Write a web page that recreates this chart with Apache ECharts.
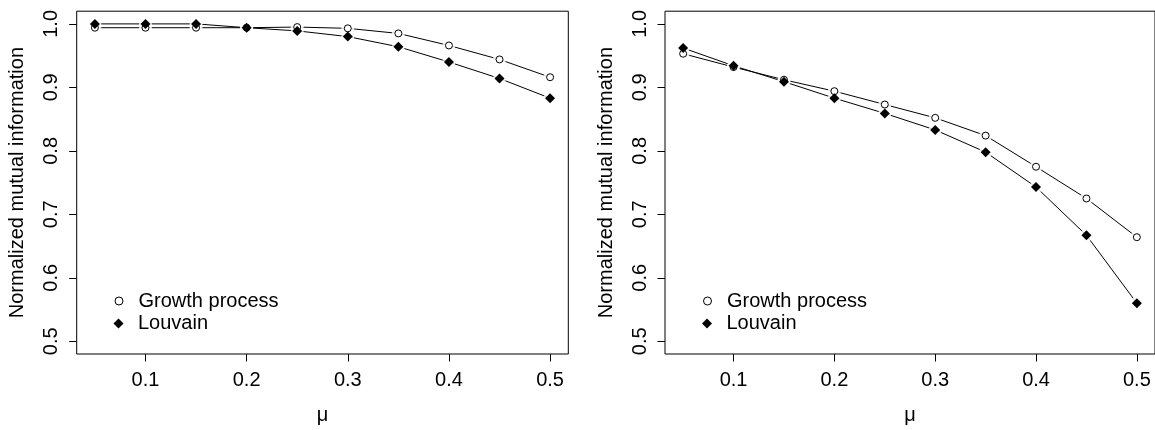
<!DOCTYPE html>
<html>
<head>
<meta charset="utf-8">
<script src="https://cdn.jsdelivr.net/npm/echarts@6/dist/echarts.min.js"></script>
<style>
  html, body { margin: 0; padding: 0; background: #fff; }
  #chart { width: 1155px; height: 430px; }
</style>
</head>
<body>
<div id="chart"></div>
<script>
// ---- data ----
const mu = [0.05, 0.10, 0.15, 0.20, 0.25, 0.30, 0.35, 0.40, 0.45, 0.50];
const leftGrowth  = [0.994, 0.994, 0.994, 0.994, 0.995, 0.993, 0.985, 0.966, 0.944, 0.916];
const leftLouvain = [1.000, 1.000, 1.000, 0.994, 0.989, 0.980, 0.964, 0.940, 0.914, 0.883];
const rightGrowth  = [0.953, 0.932, 0.912, 0.894, 0.873, 0.852, 0.824, 0.775, 0.725, 0.664];
const rightLouvain = [0.962, 0.934, 0.909, 0.883, 0.859, 0.833, 0.798, 0.743, 0.667, 0.560];
const xTicks = [0.1, 0.2, 0.3, 0.4, 0.5];
const yTicks = [0.5, 0.6, 0.7, 0.8, 0.9, 1.0];
const seriesNames = ['Growth process', 'Louvain'];
const xTitle = 'μ';
const yTitle = 'Normalized mutual information';

const FONT = '"Liberation Sans", Arial, Helvetica, sans-serif';
const pairs = (ys) => mu.map((x, i) => [x, ys[i]]);

const gridTop = 11.2, gridH = 354.8, gridW = 491.6;
const grids = [
  { left: 76.7, top: gridTop, width: gridW, height: gridH, show: true, borderColor: '#000', borderWidth: 1, backgroundColor: 'transparent' },
  { left: 665, top: gridTop, width: gridW, height: gridH, show: true, borderColor: '#000', borderWidth: 1, backgroundColor: 'transparent' }
];

function xAxis(i) {
  return {
    type: 'value', gridIndex: i, min: 0.032, max: 0.518,
    name: xTitle, nameLocation: 'middle', nameGap: 51,
    nameTextStyle: { fontFamily: FONT, fontSize: 20, color: '#000' },
    axisLine: { show: false },
    splitLine: { show: false },
    axisTick: { show: true, inside: false, length: 7.5, customValues: xTicks, lineStyle: { color: '#000', width: 1 } },
    axisLabel: { customValues: xTicks, margin: 16, fontFamily: FONT, fontSize: 20, color: '#000',
      formatter: v => v.toFixed(1) }
  };
}
function yAxis(i) {
  return {
    type: 'value', gridIndex: i, min: 0.48, max: 1.02,
    name: yTitle, nameLocation: 'middle', nameGap: 49, nameRotate: 90,
    nameTextStyle: { fontFamily: FONT, fontSize: 20, color: '#000' },
    axisLine: { show: false },
    splitLine: { show: false },
    axisTick: { show: true, inside: false, length: 7.5, customValues: yTicks, lineStyle: { color: '#000', width: 1 } },
    axisLabel: { customValues: yTicks, rotate: 90, margin: 15, fontFamily: FONT, fontSize: 20, color: '#000',
      formatter: v => v.toFixed(1) }
  };
}

function panelSeries(i, growth, louvain) {
  const base = { xAxisIndex: i, yAxisIndex: i, animation: false, silent: true };
  return [
    Object.assign({}, base, { type: 'line', name: 'gline' + i, data: pairs(growth), symbol: 'none',
      lineStyle: { color: '#000', width: 1 }, z: 2 }),
    Object.assign({}, base, { type: 'line', name: 'lline' + i, data: pairs(louvain), symbol: 'none',
      lineStyle: { color: '#000', width: 1 }, z: 2 }),
    Object.assign({}, base, { type: 'scatter', name: 'gmask' + i, data: pairs(growth), symbol: 'circle', symbolSize: 13,
      itemStyle: { color: '#fff' }, z: 3 }),
    Object.assign({}, base, { type: 'scatter', name: 'lmask' + i, data: pairs(louvain), symbol: 'circle', symbolSize: 13,
      itemStyle: { color: '#fff' }, z: 3 }),
    Object.assign({}, base, { type: 'scatter', name: seriesNames[0], data: pairs(growth), symbol: 'circle', symbolSize: 7,
      itemStyle: { color: '#fff', borderColor: '#000', borderWidth: 1, opacity: 1 }, z: 4 }),
    Object.assign({}, base, { type: 'scatter', name: seriesNames[1], data: pairs(louvain), symbol: 'diamond', symbolSize: 10,
      itemStyle: { color: '#000', opacity: 1 }, z: 4 })
  ];
}

// legend: icon box of size s, centered at cx; text begins at textX
function legend(name, icon, style, cx, cy, s, textX) {
  const left = cx - s / 2;
  const pad = textX - (left + s + 5);
  return {
    data: [{ name: name, icon: icon, itemStyle: style }],
    orient: 'vertical', left: left, top: cy - 10,
    itemWidth: s, itemHeight: s, padding: 0, itemGap: 0, selectedMode: false,
    symbolKeepAspect: true,
    textStyle: { fontFamily: FONT, fontSize: 20, color: '#000', lineHeight: 20, padding: [0, 0, 0, pad] }
  };
}
const openStyle = { color: '#fff', borderColor: '#000', borderWidth: 1 };
const fillStyle = { color: '#000', borderWidth: 0 };

const chart = echarts.init(document.getElementById('chart'), null, { renderer: 'canvas' });
chart.setOption({
  backgroundColor: '#fff',
  animation: false,
  grid: grids,
  xAxis: [xAxis(0), xAxis(1)],
  yAxis: [yAxis(0), yAxis(1)],
  legend: [
    legend(seriesNames[0], 'circle', openStyle, 118.5, 301, 8, 138),
    legend(seriesNames[1], 'diamond', fillStyle, 118.5, 323.5, 10, 138),
    legend(seriesNames[0], 'circle', openStyle, 707, 301, 8, 726.5),
    legend(seriesNames[1], 'diamond', fillStyle, 707, 323.5, 10, 726.5)
  ],
  series: [].concat(panelSeries(0, leftGrowth, leftLouvain), panelSeries(1, rightGrowth, rightLouvain))
});
</script>
</body>
</html>
